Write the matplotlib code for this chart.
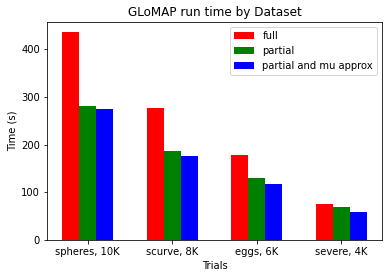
import numpy as np
import matplotlib
matplotlib.use("Agg")
import matplotlib.pyplot as plt

# data
labels = ['spheres, 10K', 'scurve, 8K', 'eggs, 6K', 'severe, 4K']
full = [436, 278, 179, 76]
partial = [282, 187, 130, 69]
partial_mu = [274, 177, 118, 59]

x = np.arange(len(labels))
width = 0.2

fig, ax = plt.subplots(figsize=(389 / 72, 278 / 72), dpi=72)
fig.subplots_adjust(left=0.121, right=0.982, bottom=0.137, top=0.921)

ax.bar(x - width, full, width, color='red', label='full')
ax.bar(x, partial, width, color='green', label='partial')
ax.bar(x + width, partial_mu, width, color='blue', label='partial and mu approx')

ax.set_xticks(x)
ax.set_xticklabels(labels)
ax.set_xlabel('Trials')
ax.set_ylabel('Time (s)')
ax.set_title('GLoMAP run time by Dataset')
ax.legend(loc='upper right')

fig.savefig('out.png', dpi=72)
